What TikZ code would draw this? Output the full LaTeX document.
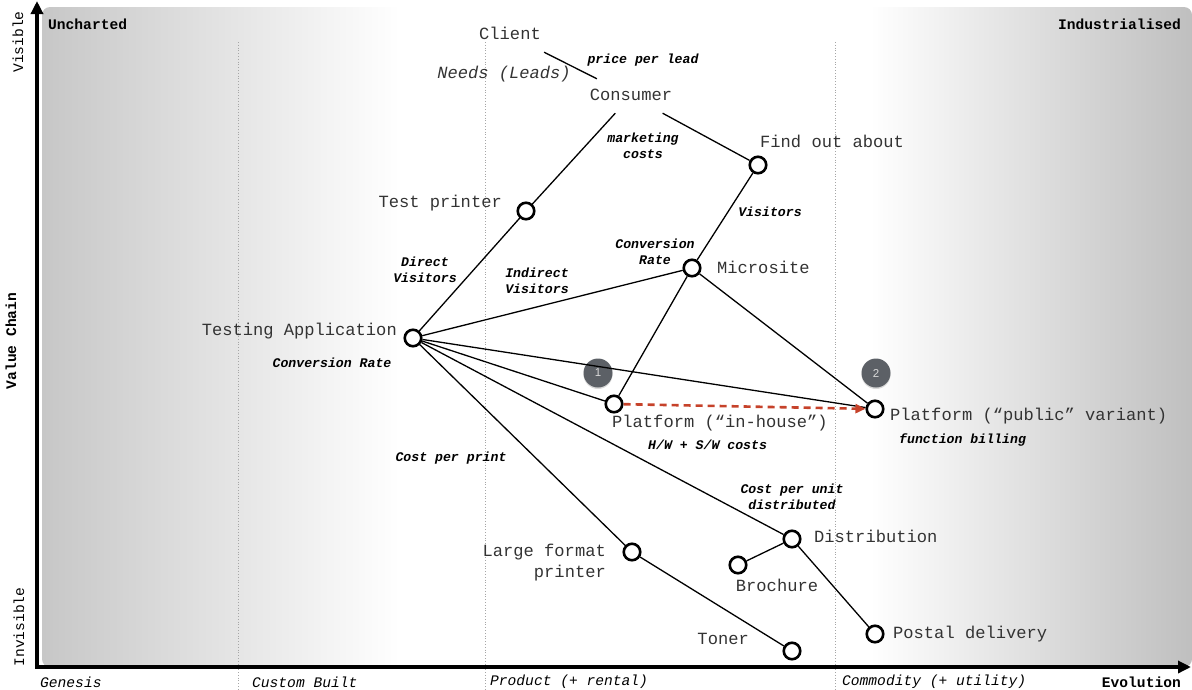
\documentclass[tikz,border=0pt]{standalone}
\usepackage{fontspec}
\setmonofont{Liberation Mono}
\setsansfont{Liberation Sans}
\usetikzlibrary{arrows.meta,shadows}

\definecolor{shiftred}{RGB}{198,66,42}
\definecolor{badgegray}{RGB}{92,96,102}
\newcommand{\compfont}{\ttfamily\fontsize{17.1}{21}\selectfont}
\newcommand{\metricfont}{\ttfamily\bfseries\itshape\fontsize{13.2}{16}\selectfont}
\newcommand{\stagefont}{\ttfamily\fontsize{14.6}{17}\selectfont}
\newcommand{\badgefont}{\sffamily\fontsize{11.5}{13}\selectfont}

\begin{document}
\begin{tikzpicture}[x=1pt, y=-1pt,
  comp/.style={circle, draw, line width=2.6pt, fill=white, minimum size=16.5pt, inner sep=0pt},
  lbl/.style={inner sep=0pt, text=black!80, font=\compfont},
  metric/.style={inner sep=0pt, align=center, font=\metricfont},
  stage/.style={inner sep=0pt, font=\stagefont},
  hit/.style={text height=12pt, text depth=3pt, inner sep=9.5pt},
  conn/.style={line width=1.3pt},
  badge/.style={circle, fill=badgegray, text=white!85!black, minimum size=29pt, inner sep=0pt,
    font=\badgefont, drop shadow={opacity=0.3, shadow xshift=0pt, shadow yshift=-1.5pt}},
  gridline/.style={gray!70, dotted, line width=0.8pt},
  axis/.style={line width=4pt, arrows={Triangle[length=13pt,width=12pt]-Triangle[length=13pt,width=12pt]}},
  evolve/.style={shiftred, line width=2.6pt, dash pattern=on 7pt off 5pt,
    arrows={-Triangle[length=10pt,width=9pt]}}]
  \useasboundingbox (0,0) rectangle (1192,689);

  % background (Uncharted -> Industrialised)
  \begin{scope}
    \clip[rounded corners=8pt] (42,7) rectangle (1192,667);
    \shade[left color=black!22, right color=white] (42,7) rectangle (400,667);
    \shade[left color=white, right color=black!25] (870,7) rectangle (1192,667);
  \end{scope}

  % stage separators
  \foreach \x in {238,485,835}
    \draw[gridline] (\x,42) -- (\x,689);

  % axes
  \draw[axis] (37,1) -- (37,667) -- (1191,667);
  \node[stage, font=\stagefont\bfseries, anchor=west] (uncharted) at (48,24) {Uncharted};
  \node[stage, font=\stagefont\bfseries, anchor=east] (industrial) at (1181,24) {Industrialised};
  \node[stage, rotate=90] (visible) at (18,42) {Visible};
  \node[stage, font=\stagefont\bfseries, rotate=90] (chain) at (11,341) {Value Chain};
  \node[stage, rotate=90] (invisible) at (19,627) {Invisible};
  \node[stage, font=\stagefont\bfseries, anchor=east] (evolution) at (1181,682) {Evolution};
  \node[stage, font=\stagefont\itshape, anchor=west] (genesis) at (40,682) {Genesis};
  \node[stage, font=\stagefont\itshape, anchor=west] (custom) at (252,682) {Custom Built};
  \node[stage, font=\stagefont\itshape, anchor=west] (product) at (490,682) {Product (+ rental)};
  \node[stage, font=\stagefont\itshape, anchor=west] (commodity) at (842,682) {Commodity (+ utility)};

  % badges
  \node[badge] (b1) at (598,373) {1};
  \node[badge] (b2) at (876,373) {2};

  % user needs
  \node[lbl, hit] (client) at (510,35) {Client};
  \node[lbl, hit] (consumer) at (631,96) {Consumer};
  \node[lbl, font=\compfont\itshape] (needs) at (504,74) {Needs (Leads)};

  % components
  \node[comp] (testprinter) at (526,211) {};
  \node[comp] (findout) at (758,165) {};
  \node[comp] (microsite) at (692,268) {};
  \node[comp] (testapp) at (413,338) {};
  \node[comp] (inhouse) at (614,404) {};
  \node[comp] (public) at (875,409) {};
  \node[comp] (largeprinter) at (632,552) {};
  \node[comp] (distribution) at (792,539) {};
  \node[comp] (brochure) at (738,565) {};
  \node[comp] (toner) at (792,651) {};
  \node[comp] (postal) at (875,634) {};

  \node[lbl, anchor=east] (testprinter-l) at (502,203) {Test printer};
  \node[lbl, anchor=west] (findout-l) at (760,141) {Find out about};
  \node[lbl, anchor=west] (microsite-l) at (717,267) {Microsite};
  \node[lbl, anchor=east] (testapp-l) at (397,331) {Testing Application};
  \node[lbl, anchor=west] (inhouse-l) at (612,423) {Platform (“in-house”)};
  \node[lbl, anchor=west] (public-l) at (890,416) {Platform (“public” variant)};
  \node[lbl, anchor=east, align=right] (largeprinter-l) at (606,563) {Large format\\printer};
  \node[lbl, anchor=west] (distribution-l) at (814,536) {Distribution};
  \node[lbl] (brochure-l) at (777,585) {Brochure};
  \node[lbl, anchor=east] (toner-l) at (749,639) {Toner};
  \node[lbl, anchor=west] (postal-l) at (893,634) {Postal delivery};

  % metrics
  \node[metric] (m-lead) at (643,60) {price per lead};
  \node[metric] (m-marketing) at (643,146) {marketing\\costs};
  \node[metric] (m-visitors) at (770,212) {Visitors};
  \node[metric] (m-convsite) at (655,252) {Conversion\\Rate};
  \node[metric] (m-direct) at (425,270) {Direct\\Visitors};
  \node[metric] (m-indirect) at (537,281) {Indirect\\Visitors};
  \node[metric] (m-convapp) at (332,363) {Conversion Rate};
  \node[metric] (m-print) at (451,458) {Cost per print};
  \node[metric, anchor=west] (m-hwsw) at (648,445) {H/W + S/W costs};
  \node[metric, anchor=west] (m-billing) at (899,440) {function billing};
  \node[metric] (m-unit) at (792,497) {Cost per unit\\distributed};

  % value chain links
  \draw[conn] (client) -- (consumer);
  \draw[conn] (consumer) -- (testprinter);
  \draw[conn] (consumer) -- (findout);
  \draw[conn] (findout) -- (microsite);
  \draw[conn] (testapp) -- (testprinter);
  \draw[conn] (testapp) -- (microsite);
  \draw[conn] (testapp) -- (public);
  \draw[conn] (testapp) -- (inhouse);
  \draw[conn] (testapp) -- (distribution);
  \draw[conn] (testapp) -- (largeprinter);
  \draw[conn] (microsite) -- (inhouse);
  \draw[conn] (microsite) -- (public);
  \draw[conn] (largeprinter) -- (toner);
  \draw[conn] (distribution) -- (brochure);
  \draw[conn] (distribution) -- (postal);

  % evolution of platform
  \draw[evolve] (inhouse) -- (public);
\end{tikzpicture}
\end{document}
